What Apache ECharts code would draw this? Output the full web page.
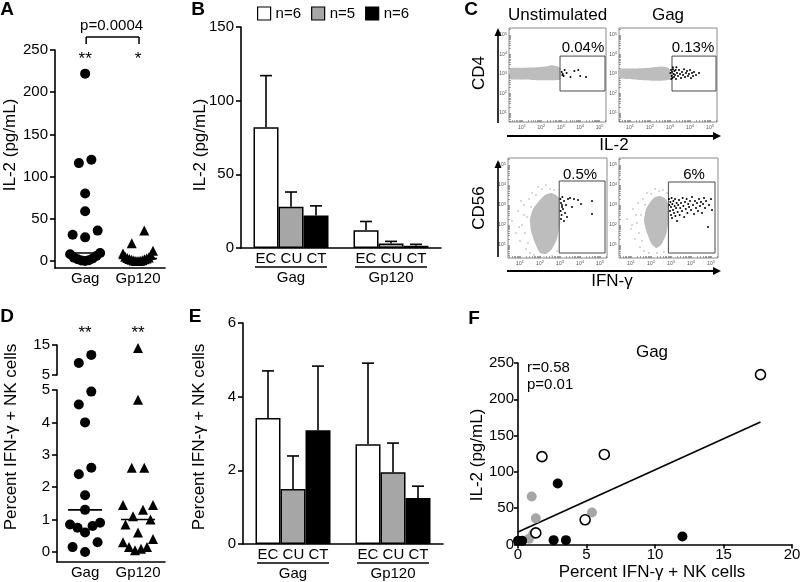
<!DOCTYPE html>
<html><head><meta charset="utf-8">
<script src="https://cdn.jsdelivr.net/npm/echarts@6/dist/echarts.min.js"></script>
<style>html,body{margin:0;padding:0;background:#fff}#c{width:800px;height:582px}</style>
</head><body><div id="c"></div><script>
// ================= DATA =================
const groupNames = ['Gag', 'Gp120'];
const cohortNames = ['EC', 'CU', 'CT'];
const cohortLegend = ['n=6', 'n=5', 'n=6'];

// Panel A: IL-2 (pg/mL) per subject
const aGag = [222, 120, 116, 80, 59, 36, 31, 28, 9.5, 8, 6, 4, 3, 2, 1, 0.5, 0];
const aGp120 = [36, 21, 12, 9, 7, 5, 4, 3.5, 3, 2.5, 2, 1.5, 1, 0.5, 0.2, 0, 0];
const aTicks = [0, 50, 100, 150, 200, 250];
const aStars = ['**', '*'];
const aPText = 'p=0.0004';

// Panel B: IL-2 mean and SEM per cohort [Gag, Gp120]
const bMeanEC = [82, 12], bSemEC = [35, 6];
const bMeanCU = [28, 3], bSemCU = [10, 1.5];
const bMeanCT = [22, 1.5], bSemCT = [6.6, 1];

// Panel C: flow cytometry (log10 units)
const cTitles = ['Unstimulated', 'Gag'];
const cPercTop = ['0.04%', '0.13%'];
const cPercBottom = ['0.5%', '6%'];
const cDecades = [1, 2, 3, 4, 5];
const cCloudTL = [[0.4,2.75],[0.4,3.3],[1.0,3.32],[1.6,3.33],[2.2,3.38],[2.5,3.45],[2.8,3.4],[2.97,3.3],[2.97,2.72],[2.5,2.68],[1.5,2.7],[0.8,2.72]];
const cCloudTR = [[0.45,2.8],[0.45,3.25],[1.2,3.28],[2.0,3.32],[2.6,3.38],[2.95,3.3],[3.05,3.0],[3.0,2.72],[2.5,2.65],[1.5,2.7],[0.9,2.75]];
const cCloudBL = [[2.55,3.6],[2.8,3.5],[2.97,3.3],[2.97,2.0],[2.85,1.3],[2.6,0.8],[2.3,0.55],[2.0,0.6],[1.75,1.1],[1.55,1.7],[1.5,2.3],[1.65,2.8],[1.95,3.2],[2.25,3.5]];
const cCloudBR = [[2.45,3.45],[2.75,3.3],[2.87,3.0],[2.87,2.2],[2.75,1.5],[2.5,1.0],[2.25,0.85],[2.0,1.1],[1.8,1.6],[1.65,2.2],[1.75,2.8],[2.0,3.2],[2.2,3.4]];
const cSpeckBL = [[0.6,2.2],[0.8,1.6],[0.9,2.7],[1.0,1.2],[1.1,2.0],[1.2,3.0],[1.25,1.6],[1.3,0.8],[1.35,2.4],[1.4,1.1],[1.45,3.3],[1.5,0.6],[1.55,2.9],[1.6,3.6],[1.7,0.5],[1.8,3.5],[1.9,3.9],[2.1,3.8],[2.3,4.0],[2.5,3.8],[2.7,3.75],[2.2,0.4],[2.6,0.45],[2.85,0.7],[1.2,2.5],[0.95,1.9],[1.05,3.2]];
const cSpeckBR = [[0.8,2.3],[1.0,1.8],[1.1,2.8],[1.2,1.3],[1.3,2.1],[1.35,3.1],[1.4,1.6],[1.45,0.9],[1.5,2.5],[1.55,1.2],[1.6,3.3],[1.65,0.7],[1.7,3.0],[1.8,3.6],[1.9,0.6],[2.0,3.55],[2.2,3.8],[2.4,3.7],[2.6,3.75],[2.8,3.6],[2.3,0.6],[2.65,0.65],[1.25,2.5],[1.05,2.0]];
const cGateTL = [2.96, 2.13, 5.28, 3.92];
const cGateTR = [3.1, 2.13, 5.3, 3.92];
const cGateBL = [2.96, 0.6, 5.25, 4.2];
const cGateBR = [2.87, 0.6, 5.2, 4.15];
const cDotsTL = [[3.05,3.1],[3.1,3.0],[3.15,2.9],[3.3,3.05],[3.5,2.85],[3.7,3.15],[3.9,3.2],[4.0,2.9],[4.3,2.85],[3.2,3.2],[3.08,2.95]];
const cDotsTR = [[3.02,3.05],[3.05,3.2],[3.08,2.9],[3.1,3.1],[3.12,2.8],[3.15,3.25],[3.18,3.0],[3.2,2.85],[3.22,3.15],[3.25,2.95],[3.28,3.2],[3.3,2.75],[3.35,3.05],[3.4,2.9],[3.45,3.2],[3.5,3.0],[3.55,2.8],[3.6,3.1],[3.65,2.95],[3.7,3.25],[3.75,2.85],[3.8,3.05],[3.85,3.15],[3.9,2.9],[3.95,3.0],[4.0,3.2],[4.05,2.8],[4.1,3.05],[4.15,2.9],[4.2,3.1],[4.3,2.95],[4.45,3.05],[3.06,2.75],[3.14,3.35],[3.32,3.35]];
const cDotsBL = [[3.02,3.3],[3.05,3.1],[3.1,2.9],[3.03,2.7],[3.15,2.8],[3.2,3.2],[3.08,2.5],[3.25,2.6],[3.3,3.0],[3.12,3.4],[3.4,3.3],[3.5,3.35],[3.6,2.9],[3.35,2.4],[3.05,2.3],[3.9,3.25],[4.05,3.05],[4.6,3.2],[4.6,2.55],[3.2,2.2],[3.1,3.0],[3.7,3.3]];
const cDotsBR = [[2.9,3.3],[2.92,3.0],[2.95,2.7],[2.97,3.15],[3.0,2.5],[3.0,2.9],[3.03,3.35],[3.05,2.35],[3.07,3.05],[3.1,2.75],[3.12,3.2],[3.15,2.6],[3.18,2.95],[3.2,3.3],[3.22,2.45],[3.25,2.85],[3.28,3.1],[3.3,2.2],[3.33,2.65],[3.36,3.0],[3.4,3.25],[3.43,2.5],[3.46,2.85],[3.5,3.1],[3.55,2.7],[3.58,3.35],[3.62,2.95],[3.66,2.4],[3.7,3.15],[3.74,2.8],[3.78,3.3],[3.82,2.6],[3.86,3.05],[3.9,2.9],[3.95,3.2],[4.0,2.75],[4.05,3.4],[4.1,3.0],[4.15,2.55],[4.2,3.2],[4.25,2.85],[4.3,3.1],[4.35,2.7],[4.4,3.3],[4.45,2.95],[4.5,3.15],[4.55,2.6],[4.6,3.05],[4.65,3.35],[4.7,2.85],[4.75,3.2],[4.85,1.9],[4.9,3.0],[5.0,3.3],[5.05,2.75]];

// Panel D: percent IFN-g+ NK cells per subject
const dGag = [11.7, 9, 4.95, 4.55, 4.0, 2.6, 2.4, 1.75, 1.3, 0.9, 0.85, 0.8, 0.75, 0.6, 0.3, 0.15, 0.0];
const dGp120 = [14, 4.7, 2.6, 2.6, 1.45, 1.45, 1.3, 1.1, 1.0, 0.85, 0.6, 0.4, 0.3, 0.15, 0.15, 0.1, 0.05];
const dTicksLow = [0, 1, 2, 3, 4, 5];
const dStars = ['**', '**'];

// Panel E: mean and SEM [Gag, Gp120]
const eMeanEC = [3.42, 2.71], eSemEC = [1.28, 2.2];
const eMeanCU = [1.49, 1.95], eSemCU = [0.9, 0.79];
const eMeanCT = [3.09, 1.25], eSemCT = [1.74, 0.32];

// Panel F: [percent IFN-g+ NK, IL-2 pg/mL]
const fEC = [[17.7,234],[1.75,121],[6.3,124],[4.9,34],[1.3,16]];
const fCU = [[1.0,66],[1.3,36],[5.4,44],[0.8,8],[1.1,14]];
const fCT = [[2.9,84],[12.0,11],[2.6,6],[3.5,6],[0,5],[0.3,5]];
const fStats = ['r=0.58', 'p=0.01'];

// ================= BUILD =================
const FONT = '"Liberation Sans", Arial, Helvetica, sans-serif';
const BLACK = '#000';
const GRAY_BAR = '#a6a6a6';
const grids = [], xAxes = [], yAxes = [], series = [];

function addGrid(left, top, width, height, extra) {
  grids.push(Object.assign({left, top, width, height, containLabel: false, outerBoundsMode: 'none'}, extra || {}));
  return grids.length - 1;
}
function axis(type, gi, o) {
  const a = {type, gridIndex: gi, splitLine: {show: false},
    axisLine: {show: true, onZero: false, lineStyle: {color: BLACK, width: 1.6}},
    axisTick: {show: true, length: 5, lineStyle: {color: BLACK, width: 1.6}},
    axisLabel: {color: BLACK, fontSize: 15, fontFamily: FONT, margin: 7, hideOverlap: false}};
  o = o || {};
  for (const k in o) {
    if (typeof o[k] === 'object' && !Array.isArray(o[k]) && a[k]) a[k] = Object.assign({}, a[k], o[k]);
    else a[k] = o[k];
  }
  return a;
}
function median(arr) { const s = arr.slice().sort((a, b) => a - b); const n = s.length; return n % 2 ? s[(n - 1) / 2] : (s[n / 2 - 1] + s[n / 2]) / 2; }
// Column-scatter layout: values close in pixel height share a row and are spread side by side.
function rowSwarm(values, center, yPx, xUnitPx, h, W, sMax) {
  const order = values.map((v, i) => i).sort((a, b) => values[a] - values[b]);
  const rows = [];
  order.forEach(i => {
    const y = yPx(values[i]); const r = rows[rows.length - 1];
    if (r && Math.abs(y - r.y0) <= h) r.items.push(i); else rows.push({y0: y, items: [i]});
  });
  const out = [];
  rows.forEach(r => {
    const n = r.items.length, s = n > 1 ? Math.min(sMax, 2 * W / (n - 1)) : 0;
    const slots = []; for (let k = 0; k < n; k++) slots.push((k - (n - 1) / 2) * s);
    slots.sort((a, b) => Math.abs(a) - Math.abs(b) || a - b);
    r.items.forEach((i, k) => out.push({v: values[i], x: center + slots[k] / xUnitPx}));
  });
  return out;
}
const solid = c => ({color: c, opacity: 1});

// ---- Panel A ----
const gA = addGrid(55, 50, 110, 218);
const aXmin = 0.43, aXmax = 2.51, aXpx = 110 / (aXmax - aXmin), aYpx = 211 / 250;
xAxes.push(axis('value', gA, {min: aXmin, max: aXmax, axisTick: {show: false}, axisLabel: {customValues: [1, 2], formatter: v => groupNames[Math.round(v) - 1], margin: 3}}));
yAxes.push(axis('value', gA, {min: -8.3, max: 250, axisTick: {customValues: aTicks}, axisLabel: {customValues: aTicks}}));
const swA1 = rowSwarm(aGag, 1, v => -v * aYpx, aXpx, 14, 15, 12.5);
const swA2 = rowSwarm(aGp120, 2, v => -v * aYpx, aXpx, 14, 15, 12.5);
series.push({type: 'scatter', xAxisIndex: gA, yAxisIndex: gA, symbol: 'circle', symbolSize: 10, itemStyle: solid(BLACK), data: swA1.map(p => [p.x, p.v])});
series.push({type: 'scatter', xAxisIndex: gA, yAxisIndex: gA, symbol: 'triangle', symbolSize: 10, itemStyle: solid(BLACK), data: swA2.map(p => [p.x, p.v])});
[aGag, aGp120].forEach((arr, k) => {
  const m = median(arr), hw = 19 / aXpx;
  series.push({type: 'line', xAxisIndex: gA, yAxisIndex: gA, symbol: 'none', lineStyle: {color: BLACK, width: 1.6}, data: [[k + 1 - hw, m], [k + 1 + hw, m]], z: 5});
});

// ---- Panel B / E (bars) ----
function barPanel(gi, yMax, yInterval, means, sems) {
  xAxes.push(axis('category', gi, {data: groupNames, axisTick: {show: false},
    axisLabel: {margin: 2, interval: 0, formatter: v => '{s|EC CU CT}\n{g|' + v + '}',
      rich: {s: {fontSize: 15, fontFamily: FONT, color: BLACK, lineHeight: 17}, g: {fontSize: 15, fontFamily: FONT, color: BLACK, lineHeight: 21}}}}));
  yAxes.push(axis('value', gi, {min: 0, max: yMax, interval: yInterval}));
  const colors = ['#ffffff', GRAY_BAR, BLACK];
  cohortNames.forEach((nm, k) => {
    series.push({type: 'bar', name: nm, xAxisIndex: gi, yAxisIndex: gi, barWidth: 25, barGap: '0%',
      itemStyle: {color: colors[k], borderColor: BLACK, borderWidth: 1.5, opacity: 1}, data: means[k], z: 3});
  });
  const errData = [];
  cohortNames.forEach((nm, k) => { means[k].forEach((m, ci) => errData.push([ci, m, sems[k][ci], k])); });
  series.push({type: 'custom', xAxisIndex: gi, yAxisIndex: gi, z: 2, silent: true,
    renderItem: (params, api) => {
      const ci = api.value(0), m = api.value(1), s = api.value(2), k = api.value(3);
      const p0 = api.coord([ci, m]), p1 = api.coord([ci, m + s]);
      const x = p0[0] + (k - 1) * 25;
      return {type: 'group', children: [
        {type: 'line', shape: {x1: x, y1: p0[1], x2: x, y2: p1[1]}, style: {stroke: BLACK, lineWidth: 1.6}},
        {type: 'line', shape: {x1: x - 6, y1: p1[1], x2: x + 6, y2: p1[1]}, style: {stroke: BLACK, lineWidth: 1.6}}]};
    },
    encode: {x: 0, y: 1}, data: errData});
}
const gB = addGrid(241, 27, 200, 221);
barPanel(gB, 150, 50, [bMeanEC, bMeanCU, bMeanCT], [bSemEC, bSemCU, bSemCT]);

// ---- Panel C (flow) ----
const logTicks = [];
for (let n = 0; n <= 5; n++) for (let k = 1; k <= 9; k++) logTicks.push(n + Math.log10(k));
function flowAxis(gi, min, max) {
  return {type: 'value', gridIndex: gi, min, max, splitLine: {show: false},
    axisLine: {show: false},
    axisTick: {show: true, inside: true, length: 2, customValues: logTicks.filter(t => t >= min && t <= max), lineStyle: {color: '#666', width: 0.6}},
    axisLabel: {customValues: cDecades.filter(t => t >= min && t <= max), margin: 2, hideOverlap: false,
      formatter: v => '{a|10}{b|' + v + '}',
      rich: {a: {fontSize: 5, color: '#555', fontFamily: FONT}, b: {fontSize: 4, color: '#555', fontFamily: FONT, padding: [0, 0, 3, 0]}}}};
}
function polySeries(gi, pts, color, z, smooth) {
  return {type: 'custom', xAxisIndex: gi, yAxisIndex: gi, z, silent: true,
    renderItem: (params, api) => {
      if (params.dataIndex !== 0) return null;
      return {type: 'polygon', shape: {points: pts.map(p => api.coord(p)), smooth: smooth}, style: {fill: color}};
    }, data: pts};
}
function gateSeries(gi, g) {
  return {type: 'custom', xAxisIndex: gi, yAxisIndex: gi, z: 3, silent: true,
    renderItem: (params, api) => {
      const a = api.coord([api.value(0), api.value(1)]), b = api.coord([api.value(2), api.value(3)]);
      return {type: 'rect', shape: {x: a[0], y: b[1], width: b[0] - a[0], height: a[1] - b[1]}, style: {fill: 'none', stroke: '#4a4a4a', lineWidth: 1}};
    }, data: [g]};
}
function flowPanel(left, top, w, h, xr, yr, speck, cloud, gate, dots) {
  const gi = addGrid(left, top, w, h, {show: true, borderColor: '#8a8a8a', borderWidth: 1, backgroundColor: 'transparent'});
  xAxes.push(flowAxis(gi, xr[0], xr[1]));
  yAxes.push(flowAxis(gi, yr[0], yr[1]));
  if (speck) series.push({type: 'scatter', xAxisIndex: gi, yAxisIndex: gi, symbolSize: 1.6, itemStyle: solid('#a8a8a8'), data: speck, z: 1, silent: true});
  series.push(polySeries(gi, cloud, '#bdbdbd', 2, 0.15));
  series.push(gateSeries(gi, gate));
  series.push({type: 'scatter', xAxisIndex: gi, yAxisIndex: gi, symbolSize: 2, itemStyle: solid(BLACK), data: dots, z: 4, silent: true});
  return gi;
}
const gCTL = flowPanel(509, 28, 97, 94, [0.33, 5.33], [0.54, 5.36], null, cCloudTL, cGateTL, cDotsTL);
const gCTR = flowPanel(619, 28, 98, 94, [0.45, 5.35], [0.54, 5.36], null, cCloudTR, cGateTR, cDotsTR);
const gCBL = flowPanel(508, 158, 99, 100, [0.4, 5.35], [0.35, 5.35], cSpeckBL, cCloudBL, cGateBL, cDotsBL);
const gCBR = flowPanel(619, 158, 99, 100, [0.4, 5.35], [0.35, 5.35], cSpeckBR, cCloudBR, cGateBR, cDotsBR);

// ---- Panel D (broken axis) ----
const dXmin = 0.47, dXmax = 2.51, dXpx = 108 / (dXmax - dXmin);
const gDu = addGrid(57, 345, 108, 30);
xAxes.push(axis('value', gDu, {min: dXmin, max: dXmax, show: false}));
yAxes.push(axis('value', gDu, {min: 5, max: 15, interval: 10}));
const gDl = addGrid(57, 390, 108, 172);
xAxes.push(axis('value', gDl, {min: dXmin, max: dXmax, axisTick: {show: false}, axisLabel: {customValues: [1, 2], formatter: v => groupNames[Math.round(v) - 1], margin: 3}}));
yAxes.push(axis('value', gDl, {min: -0.31, max: 5, axisTick: {customValues: dTicksLow}, axisLabel: {customValues: dTicksLow}}));
const dYpx = v => v <= 5 ? 552 - v * 32.4 : 375 - (v - 5) * 3;
[[dGag, 'circle'], [dGp120, 'triangle']].forEach(([arr, sym], k) => {
  const sw = rowSwarm(arr, k + 1, dYpx, dXpx, 14, 15, 12.5);
  series.push({type: 'scatter', xAxisIndex: gDl, yAxisIndex: gDl, symbol: sym, symbolSize: 10, itemStyle: solid(BLACK), data: sw.filter(p => p.v <= 5).map(p => [p.x, p.v])});
  series.push({type: 'scatter', xAxisIndex: gDu, yAxisIndex: gDu, symbol: sym, symbolSize: 10, itemStyle: solid(BLACK), data: sw.filter(p => p.v > 5).map(p => [p.x, p.v])});
  const m = median(arr), hw = 17 / dXpx;
  series.push({type: 'line', xAxisIndex: gDl, yAxisIndex: gDl, symbol: 'none', lineStyle: {color: BLACK, width: 1.6}, data: [[k + 1 - hw, m], [k + 1 + hw, m]], z: 5});
});

// ---- Panel E ----
const gE = addGrid(243, 323, 200, 221);
barPanel(gE, 6, 2, [eMeanEC, eMeanCU, eMeanCT], [eSemEC, eSemCU, eSemCT]);

// ---- Panel F ----
const gF = addGrid(518, 363, 274, 181.5);
xAxes.push(axis('value', gF, {min: 0, max: 20, interval: 5, axisTick: {length: 4}, axisLabel: {margin: 3}}));
yAxes.push(axis('value', gF, {min: 0, max: 250, interval: 50, axisTick: {length: 4}, axisLabel: {margin: 4}}));
const fAll = fEC.concat(fCU, fCT);
(function () {
  const n = fAll.length, mx = fAll.reduce((s, p) => s + p[0], 0) / n, my = fAll.reduce((s, p) => s + p[1], 0) / n;
  let sxy = 0, sxx = 0; fAll.forEach(p => { sxy += (p[0] - mx) * (p[1] - my); sxx += (p[0] - mx) ** 2; });
  const slope = sxy / sxx, icpt = my - slope * mx, xmax = Math.max(...fAll.map(p => p[0]));
  series.push({type: 'line', xAxisIndex: gF, yAxisIndex: gF, symbol: 'none', lineStyle: {color: BLACK, width: 1.6}, data: [[0, icpt], [xmax, icpt + slope * xmax]], z: 2});
})();
series.push({type: 'scatter', xAxisIndex: gF, yAxisIndex: gF, symbolSize: 10, itemStyle: solid(GRAY_BAR), data: fCU, z: 3});
series.push({type: 'scatter', xAxisIndex: gF, yAxisIndex: gF, symbolSize: 10, itemStyle: solid(BLACK), data: fCT, z: 4});
series.push({type: 'scatter', xAxisIndex: gF, yAxisIndex: gF, symbolSize: 10, itemStyle: {color: '#fff', borderColor: BLACK, borderWidth: 1.6, opacity: 1}, data: fEC, z: 5});

const chart = echarts.init(document.getElementById('c'), null, {renderer: 'canvas'});
chart.setOption({
  animation: false,
  backgroundColor: '#fff',
  textStyle: {fontFamily: FONT},
  legend: {data: cohortNames, left: 252, top: 1, itemWidth: 13, itemHeight: 13, itemGap: 10, icon: 'rect', selectedMode: false,
    formatter: n => cohortLegend[cohortNames.indexOf(n)],
    itemStyle: {borderColor: BLACK, borderWidth: 1.2},
    textStyle: {fontSize: 15, fontFamily: FONT, color: BLACK}},
  grid: grids, xAxis: xAxes, yAxis: yAxes, series: series
});

// ---- annotations ----
const T = (x, y, text, size, o) => Object.assign({type: 'text', x, y, z: 100, style: Object.assign({text, fill: BLACK, font: (o && o.bold ? 'bold ' : '') + size + 'px ' + FONT, align: 'center', verticalAlign: 'middle'}, (o && o.style) || {})}, (o && o.el) || {});
const Lseg = (x1, y1, x2, y2, w, c) => ({type: 'line', z: 100, shape: {x1, y1, x2, y2}, style: {stroke: c || BLACK, lineWidth: w || 1.6}});
const px = (gi, x) => chart.convertToPixel({xAxisIndex: gi}, x);
const g = [];
[['A', 7, 10], ['B', 198, 10], ['C', 471, 10], ['D', 7, 317], ['E', 195, 317], ['F', 474, 319]].forEach(([t, x, y]) => g.push(T(x, y, t, 19, {bold: true})));
g.push(T(10, 145, 'IL-2 (pg/mL)', 17, {el: {rotation: Math.PI / 2}}));
g.push(T(200, 145, 'IL-2 (pg/mL)', 17, {el: {rotation: Math.PI / 2}}));
g.push(T(11, 437, 'Percent IFN-\u03b3 + NK cells', 17, {el: {rotation: Math.PI / 2}}));
g.push(T(199, 437, 'Percent IFN-\u03b3 + NK cells', 17, {el: {rotation: Math.PI / 2}}));
g.push(T(477, 455, 'IL-2 (pg/mL)', 17, {el: {rotation: Math.PI / 2}}));
g.push(T(652, 572, 'Percent IFN-\u03b3 + NK cells', 17));
const ax1 = px(gA, 1), ax2 = px(gA, 2);
g.push(T(ax1, 59, aStars[0], 17)); g.push(T(ax2, 59, aStars[1], 17));
g.push(T((ax1 + ax2) / 2, 26, aPText, 15));
g.push(Lseg(ax1 + 1, 44, ax1 + 1, 37, 1.5)); g.push(Lseg(ax1 + 1, 37, ax2 + 1, 37, 1.5)); g.push(Lseg(ax2 + 1, 37, ax2 + 1, 44, 1.5));
g.push(T(px(gDl, 1), 333, dStars[0], 17)); g.push(T(px(gDl, 2), 333, dStars[1], 17));
[[gB, 248], [gE, 544]].forEach(([gi, base]) => {
  groupNames.forEach(nm => { const cx = px(gi, nm); g.push(Lseg(cx - 36, base + 19, cx + 36, base + 19, 1.3)); });
});
const cxL = (509 + 606) / 2, cxR = (619 + 717) / 2;
g.push(T(cxL, 15, cTitles[0], 17)); g.push(T(cxR, 15, cTitles[1], 17));
g.push(T(583, 48, cPercTop[0], 15)); g.push(T(693, 48, cPercTop[1], 15));
g.push(T(580, 175, cPercBottom[0], 15)); g.push(T(694, 175, cPercBottom[1], 15));
function arrowH(y, x1, x2) { g.push(Lseg(x1, y, x2 - 6, y, 2)); g.push({type: 'polygon', z: 100, shape: {points: [[x2, y], [x2 - 8, y - 4], [x2 - 8, y + 4]]}, style: {fill: BLACK}}); }
function arrowV(x, y1, y2) { g.push(Lseg(x, y1, x, y2 + 6, 1.6)); g.push({type: 'polygon', z: 100, shape: {points: [[x, y2], [x - 3.5, y2 + 8], [x + 3.5, y2 + 8]]}, style: {fill: BLACK}}); }
arrowH(136, 507, 721); arrowH(271, 507, 721);
arrowV(498, 123, 28); arrowV(498, 257, 160);
g.push(T(614, 145, 'IL-2', 17)); g.push(T(612, 281, 'IFN-\u03b3', 17));
g.push(T(479, 73, 'CD4', 17, {el: {rotation: Math.PI / 2}}));
g.push(T(479, 208, 'CD56', 17, {el: {rotation: Math.PI / 2}}));
g.push(T(652, 352, groupNames[0], 17));
g.push(T(527, 368, fStats[0], 15, {style: {align: 'left'}}));
g.push(T(527, 385, fStats[1], 15, {style: {align: 'left'}}));
chart.setOption({graphic: {elements: g}});
</script></body></html>
